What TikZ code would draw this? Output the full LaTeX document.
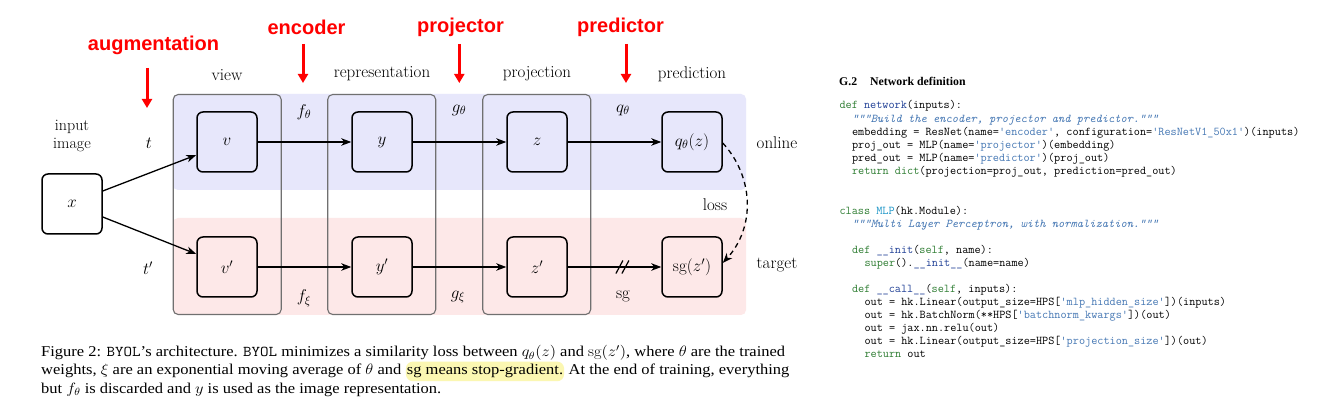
\RequirePackage{fix-cm}
\documentclass[tikz,border=0pt]{standalone}
\usepackage{fontspec}
\usepackage{graphicx}
\newfontfamily\capfont{Liberation Serif}
\newfontfamily\redfont{Liberation Sans}
\usetikzlibrary{arrows.meta,calc}
\definecolor{onl}{RGB}{231,231,251}
\definecolor{tgt}{RGB}{253,232,232}
\definecolor{colgray}{RGB}{112,112,112}
\definecolor{hl}{RGB}{251,247,178}
\definecolor{kwgreen}{RGB}{46,125,50}
\definecolor{fnblue}{RGB}{32,64,150}
\definecolor{strblue}{RGB}{70,120,180}
\definecolor{clsblue}{RGB}{30,150,200}
\definecolor{augred}{RGB}{255,0,0}
\newcommand\ckw[1]{\textcolor{kwgreen}{#1}}
\newcommand\cfn[1]{\textcolor{fnblue}{#1}}
\newcommand\cstr[1]{\textcolor{strblue}{#1}}
\newcommand\ccls[1]{\textcolor{clsblue}{#1}}
\newcommand\capfnt{\capfont\fontsize{15}{18}\selectfont}
\newcommand\capA{Figure 2: \texttt{BYOL}’s architecture. \texttt{BYOL} minimizes a similarity loss between $q_\theta(z)$ and $\mathrm{sg}(z')$, where $\theta$ are the trained}
\newlength\capw
\begin{document}
\settowidth\capw{\capfnt\capA}%
\pgfmathsetmacro\cs{744/\capw}%
\pgfmathsetmacro\csp{3.75*\cs}%
\begin{tikzpicture}[x=1pt,y=-1pt,
  lbl/.style={font=\fontsize{17}{19}\selectfont, inner sep=0pt, align=center},
  mth/.style={font=\fontsize{17}{19}\selectfont, inner sep=0pt},
  box/.style={draw, line width=1.5pt, rounded corners=6pt, minimum size=60pt, inner sep=0pt, font=\fontsize{17}{19}\selectfont},
  colbox/.style={draw=colgray, line width=1.1pt, rounded corners=5pt, minimum width=108pt, minimum height=220pt, inner sep=0pt},
  arr/.style={line width=1.3pt, -{Stealth[length=10pt,width=7.5pt,inset=3pt]}},
  redlbl/.style={font=\redfont\bfseries\fontsize{20}{23}\selectfont, text=augred, inner sep=0pt},
  redarr/.style={draw=augred, line width=3pt, -{Triangle[length=9pt,width=10pt]}},
  captxt/.style={font=\capfnt, inner sep=0pt, anchor=base west},
  codeln/.style={font=\ttfamily\fontsize{11.9}{13}\selectfont, inner sep=0pt, anchor=base west},
  ttl/.style={font=\capfont\bfseries\fontsize{11.8}{14}\selectfont, inner sep=0pt, anchor=base west}]
\fill[white] (0,0) rectangle (1318,403);
\useasboundingbox (0,0) rectangle (1318,403);
% regions
\fill[onl, rounded corners=5pt] (173,94) rectangle (746,190);
\fill[tgt, rounded corners=5pt] (173,218) rectangle (746,315);
% column boxes
\node[colbox] (cv) at (227.2,204.5) {};
\node[colbox] (cr) at (381.7,204.5) {};
\node[colbox] (cp) at (536.7,204.5) {};
% nodes
\node[box] (x) at (72,204) {$x$};
\node[box] (v) at (227,142) {$v$};
\node[box] (y) at (382,142) {$y$};
\node[box] (z) at (537,142) {$z$};
\node[box] (q) at (692,142) {$q_\theta(z)$};
\node[box] (vp) at (227,267) {$v'$};
\node[box] (yp) at (382,267) {$y'$};
\node[box] (zp) at (537,267) {$z'$};
\node[box] (sgz) at (692,267) {$\mathrm{sg}(z')$};
% connectors
\draw[arr] ($(x.east)+(0,-13)$) -- ($(v.west)+(0,13)$);
\draw[arr] ($(x.east)+(0,13)$) -- ($(vp.west)+(0,-13)$);
\draw[arr] (v) -- (y);
\draw[arr] (y) -- (z);
\draw[arr] (z) -- (q);
\draw[arr] (vp) -- (yp);
\draw[arr] (yp) -- (zp);
\draw[arr] (zp) -- coordinate[pos=0.59] (slc) (sgz);
\draw[line width=1.2pt] ($(slc)+(-7,6.5)$) -- ($(slc)+(0,-6.5)$);
\draw[line width=1.2pt] ($(slc)+(-1,6.5)$) -- ($(slc)+(6,-6.5)$);
\draw[arr, dash pattern=on 5pt off 4pt] ([yshift=-1pt]q.east) .. controls +(32,35) and +(32,-35) .. ([yshift=4pt]sgz.east);
% labels
\node[lbl, font=\fontsize{16}{18.3}\selectfont] (inimg) at (72,136) {input\\image};
\node[mth] (lt) at (149,143) {$t$};
\node[mth] (ltp) at (148,268) {$t'$};
\node[mth] (lf) at (304,112) {$f_\theta$};
\node[mth] (lg) at (459,110) {$g_\theta$};
\node[mth] (lq) at (623,110) {$q_\theta$};
\node[mth] (lfx) at (304,298) {$f_\xi$};
\node[mth] (lgx) at (458,297) {$g_\xi$};
\node[lbl] (lsg) at (623,296) {sg};
\node[lbl] (lonl) at (777,143) {online};
\node[lbl] (lloss) at (715,205) {loss};
\node[lbl] (ltgt) at (777,265) {target};
\node[lbl] (lview) at (227,75) {view};
\node[lbl] (lrep) at (382,74) {representation};
\node[lbl] (lproj) at (537,74) {projection};
\node[lbl] (lpred) at (692,74) {prediction};
% red annotations
\node[redlbl] (raug) at (153.5,45.5) {augmentation};
\node[redlbl] (renc) at (306.5,27) {encoder};
\node[redlbl] (rproj) at (460.5,27) {projector};
\node[redlbl] (rpred) at (620.5,27) {predictor};
\coordinate (a1s) at (147,68); \coordinate (a1e) at (147,108);
\coordinate (a2s) at (303,44); \coordinate (a2e) at (303,83);
\coordinate (a3s) at (459.3,44); \coordinate (a3e) at (459.3,83);
\coordinate (a4s) at (626,44); \coordinate (a4e) at (626,83);
\draw[redarr] (a1s) -- (a1e);
\draw[redarr] (a2s) -- (a2e);
\draw[redarr] (a3s) -- (a3e);
\draw[redarr] (a4s) -- (a4e);
% caption
\node[captxt] (c1) at (41,357) {\scalebox{\cs}[1]{\capA}};
\node[captxt] (c2a) at (41,375) {\scalebox{\cs}[1]{weights, $\xi$ are an exponential moving average of $\theta$ and}};
\node[captxt, fill=hl, inner xsep=1pt, inner ysep=3pt, rounded corners=7pt] (c2b) at ([xshift=\csp pt]c2a.base east) {\scalebox{\cs}[1]{sg means stop-gradient.}};
\node[captxt] (c2c) at ([xshift=\csp pt]c2b.base east) {\scalebox{\cs}[1]{At the end of training, everything}};
\node[captxt] (c3) at (41,393) {\scalebox{\cs}[1]{but $f_\theta$ is discarded and $y$ is used as the image representation.}};
% code panel
\node[ttl] (g2) at (839,86) {G.2};
\node[ttl] (g2t) at (870,86) {Network definition};
\node[codeln] (k1) at (839.3,109) {\ckw{def} \cfn{network}(inputs):};
\node[codeln] (k2) at (851.8,122.5) {\cstr{\itshape """Build the encoder, projector and predictor."""}};
\node[codeln] (k3) at (851.8,136) {embedding = ResNet(name=\cstr{'encoder'}, configuration=\cstr{'ResNetV1\_50x1'})(inputs)};
\node[codeln] (k4) at (851.8,149) {proj\_out = MLP(name=\cstr{'projector'})(embedding)};
\node[codeln] (k5) at (851.8,162) {pred\_out = MLP(name=\cstr{'predictor'})(proj\_out)};
\node[codeln] (k6) at (851.8,175) {\ckw{return} \ckw{dict}(projection=proj\_out, prediction=pred\_out)};
\node[codeln] (k7) at (839.3,214.5) {\ckw{class} \ccls{MLP}(hk.Module):};
\node[codeln] (k8) at (851.8,227.5) {\cstr{\itshape """Multi Layer Perceptron, with normalization."""}};
\node[codeln] (k9) at (851.8,253.5) {\ckw{def} \cfn{\_\_init}(\ckw{self}, name):};
\node[codeln] (k10) at (864.3,266.5) {\ckw{super}().\cfn{\_\_init\_\_}(name=name)};
\node[codeln] (k11) at (851.8,292.5) {\ckw{def} \cfn{\_\_call\_\_}(\ckw{self}, inputs):};
\node[codeln] (k12) at (864.3,305.5) {out = hk.Linear(output\_size=HPS[\cstr{'mlp\_hidden\_size'}])(inputs)};
\node[codeln] (k13) at (864.3,318.5) {out = hk.BatchNorm(**HPS[\cstr{'batchnorm\_kwargs'}])(out)};
\node[codeln] (k14) at (864.3,331.5) {out = jax.nn.relu(out)};
\node[codeln] (k15) at (864.3,344.5) {out = hk.Linear(output\_size=HPS[\cstr{'projection\_size'}])(out)};
\node[codeln] (k16) at (864.3,357.5) {\ckw{return} out};
\end{tikzpicture}
\end{document}
